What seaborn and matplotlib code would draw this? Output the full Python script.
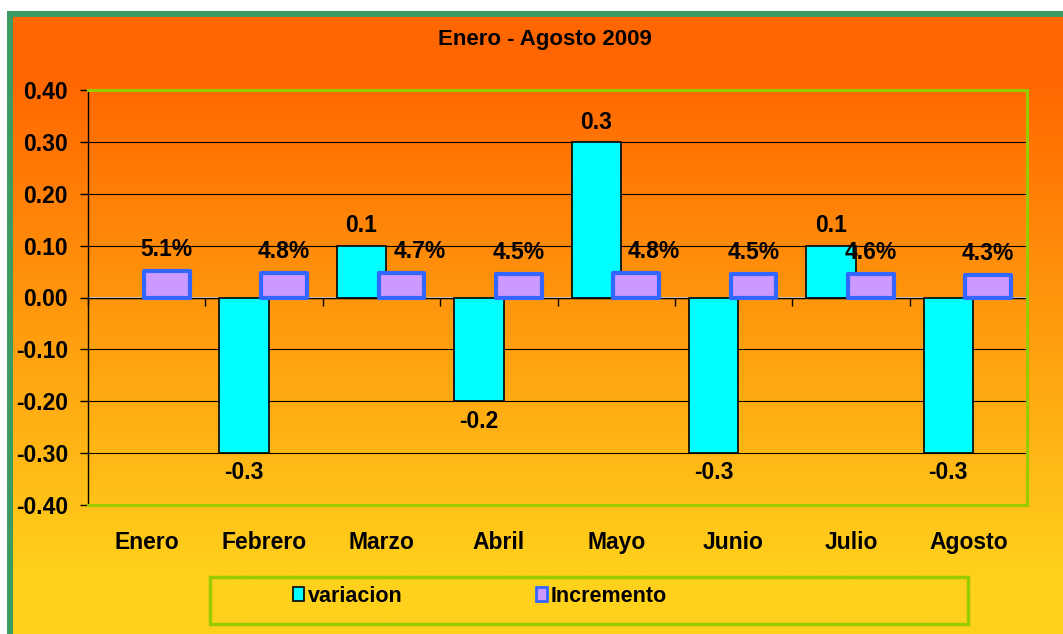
import numpy as np
import pandas as pd
import matplotlib
matplotlib.use("Agg")
import matplotlib.pyplot as plt
import seaborn as sns
from matplotlib.colors import LinearSegmentedColormap
from matplotlib.patches import Patch, Rectangle
from matplotlib.ticker import FormatStrFormatter

# datos
meses = ["Enero", "Febrero", "Marzo", "Abril", "Mayo", "Junio", "Julio", "Agosto"]
variacion = [np.nan, -0.3, 0.1, -0.2, 0.3, -0.3, 0.1, -0.3]
incremento_pct = [5.1, 4.8, 4.7, 4.5, 4.8, 4.5, 4.6, 4.3]
series = ["variacion", "Incremento"]
y_ticks = [-0.4, -0.3, -0.2, -0.1, 0.0, 0.1, 0.2, 0.3, 0.4]
titulo = "Enero - Agosto 2009"

df = pd.DataFrame({
    "mes": meses * 2,
    "serie": [series[0]] * len(meses) + [series[1]] * len(meses),
    "valor": variacion + [v / 100 for v in incremento_pct],
})

# estilo
sns.set_theme(style="white")
plt.rcParams["font.family"] = ["Liberation Sans", "DejaVu Sans"]
plt.rcParams["font.weight"] = "bold"
plt.rcParams["text.color"] = "black"
plt.rcParams["xtick.color"] = "black"
plt.rcParams["ytick.color"] = "black"
plt.rcParams["xtick.labelcolor"] = "black"
plt.rcParams["ytick.labelcolor"] = "black"

cian = "#00FFFF"
lila = "#CC99FF"
borde_lila = "#3366FF"
verde = "#99CC00"

W, H = 1063, 634
fig = plt.figure(figsize=(W / 100, H / 100), dpi=100)
fig.patch.set_facecolor("white")

# fondo degradado con marco verde
bg = fig.add_axes([10 / W, 0, 1 - 10 / W, 1 - 14 / H], zorder=0)
fondo = LinearSegmentedColormap.from_list(
    "fondo", [(0, "#FF6600"), (0.1, "#FF6600"), (0.9, "#FFD01C"), (1, "#FFD21C")])
bg.imshow(np.linspace(0, 1, 256).reshape(-1, 1), cmap=fondo, aspect="auto")
bg.set_xticks([])
bg.set_yticks([])
for s in ["right", "bottom"]:
    bg.spines[s].set_visible(False)
for s in ["top", "left"]:
    bg.spines[s].set_color("#3A9B63")
    bg.spines[s].set_linewidth(4.3)

# grafico
ax = fig.add_axes([88 / W, 1 - 505 / H, (1027 - 88) / W, (505 - 90) / H], zorder=1)
ax.patch.set_alpha(0)

sns.barplot(data=df, x="mes", y="valor", hue="serie", order=meses, hue_order=series,
            palette=[cian, lila], saturation=1, width=0.68, dodge=True,
            legend=False, ax=ax)

barras_var, barras_inc = ax.containers[0], ax.containers[1]
for p in barras_var:
    p.set_x(p.get_x() - 0.04)
    p.set_width(p.get_width() + 0.08)
    p.set_edgecolor("black")
    p.set_linewidth(1.2)
for p in barras_inc:
    p.set_x(p.get_x() - 0.025)
    p.set_width(p.get_width() + 0.05)
    p.set_edgecolor(borde_lila)
    p.set_linewidth(3)
    p.set_joinstyle("round")

ax.bar_label(barras_var, fmt=lambda v: f"{v:.1f}", padding=6, fontsize=16.5,
             fontweight="bold", color="black")
etq_inc = ax.bar_label(barras_inc, fmt=lambda v: f"{v * 100:.1f}%", padding=7,
                       fontsize=16.5, fontweight="bold", color="black")
# etiquetas desplazadas a la derecha donde tapa la barra cian
ajuste = {"Marzo": 13, "Mayo": 13}
for p, t in zip(barras_inc, etq_inc):
    mes = meses[int(round(p.get_x() + p.get_width() / 2))]
    if mes in ajuste:
        dx, dy = t.xyann
        t.xyann = (dx + ajuste[mes], dy)

ax.set_ylim(-0.4, 0.4)
ax.set_xlim(-0.5, len(meses) - 0.5)
ax.set_yticks(y_ticks)
ax.yaxis.set_major_formatter(FormatStrFormatter("%.2f"))
ax.set_xlabel("")
ax.set_ylabel("")
ax.yaxis.grid(True, color="black", linewidth=0.8)
ax.set_axisbelow(True)
ax.tick_params(axis="y", length=5.8, width=1, color="black", direction="out",
               pad=8.6, labelsize=16.5, left=True)
ax.tick_params(axis="x", length=0, pad=19, labelsize=16.5)
for lab in ax.get_xticklabels() + ax.get_yticklabels():
    lab.set_fontweight("bold")
    lab.set_color("black")

ax.spines["left"].set_color("black")
ax.spines["left"].set_linewidth(1)
for s in ["top", "right", "bottom"]:
    ax.spines[s].set_color(verde)
    ax.spines[s].set_linewidth(2.2)

# eje de categorias sobre el cero
sec = ax.secondary_xaxis(0.5)
sec.set_alignment("bottom")
sec.set_xticks(np.arange(len(meses) + 1) - 0.5)
sec.tick_params(length=5.8, width=1, color="black", direction="out", labelbottom=False)
sec.spines["bottom"].set_color("black")
sec.spines["bottom"].set_linewidth(1)

fig.text(545 / W, 1 - 40 / H, titulo, ha="center", va="center", fontsize=16,
         fontweight="bold", color="black")

# leyenda
fig.add_artist(Rectangle((210 / W, 1 - 624 / H), 758 / W, 47 / H, transform=fig.transFigure,
                         fill=False, edgecolor=verde, linewidth=2.5))
fuente_ley = {"family": ["Liberation Sans"], "weight": "bold", "size": 15.5}
handles = [Patch(facecolor=cian, edgecolor="black", linewidth=1.2),
           Patch(facecolor=lila, edgecolor=borde_lila, linewidth=2)]
for h, lab, x0 in zip(handles, series, [293, 536]):
    leg = fig.legend([h], [lab], loc="center left", bbox_to_anchor=(x0 / W, 1 - 596 / H),
                     frameon=False, borderpad=0, borderaxespad=0, handlelength=0.5,
                     handleheight=0.62, handletextpad=0.2, prop=fuente_ley)
    for t in leg.get_texts():
        t.set_color("black")

fig.savefig("out.png", dpi=100)
